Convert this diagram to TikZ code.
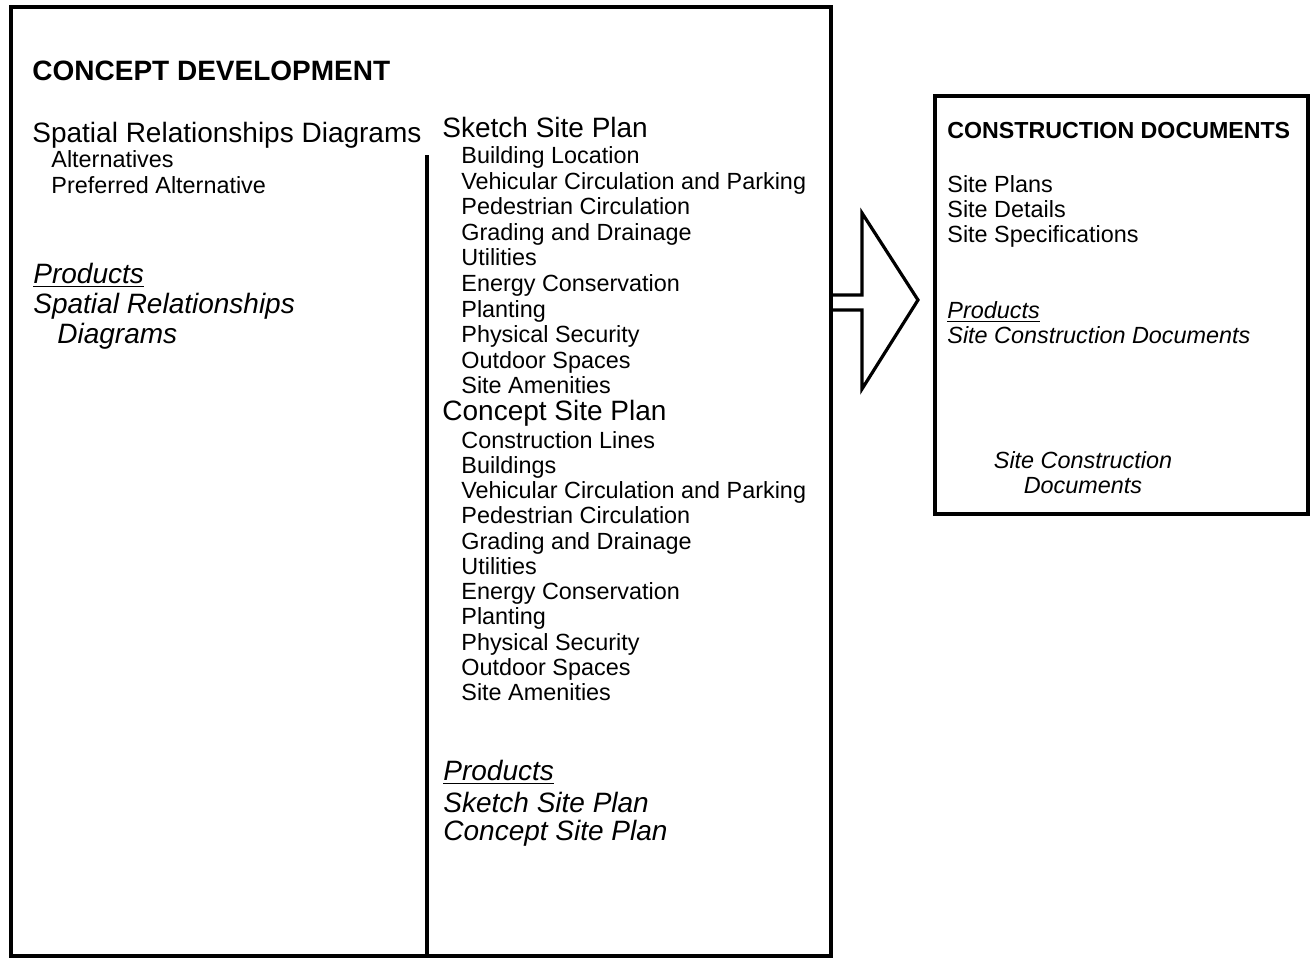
\documentclass[tikz,border=0pt]{standalone}
\usepackage{fontspec}
\setmainfont{Liberation Sans}
\usepackage{tikz}
\usetikzlibrary{calc}

\tikzset{
	frame/.style={line width=1.6pt, line join=miter},
	title/.style={anchor=base west, inner sep=0pt, font=\fontsize{14}{16}\selectfont\bfseries},
	subtitle/.style={anchor=base west, inner sep=0pt, font=\fontsize{11.6}{13}\selectfont\bfseries},
	heading/.style={anchor=base west, inner sep=0pt, font=\fontsize{14}{16}\selectfont},
	item/.style={anchor=base west, inner sep=0pt, font=\fontsize{11.7}{13}\selectfont},
	product/.style={anchor=base west, inner sep=0pt, font=\fontsize{14}{16}\selectfont\itshape},
	smallproduct/.style={anchor=base west, inner sep=0pt, font=\fontsize{11.7}{13}\selectfont\itshape},
}

\begin{document}
\begin{tikzpicture}[x=0.5pt, y=-0.5pt]
	\useasboundingbox (0,0) rectangle (1311,958);

	\coordinate (cdnw) at (11,7);
	\coordinate (cdse) at (831,956);
	\coordinate (divtop) at (427,155);
	\coordinate (divbot) at (427,956);
	\coordinate (docnw) at (935,96);
	\coordinate (docse) at (1308,514);

	\draw [frame] (cdnw) rectangle (cdse);
	\draw [frame] (divtop) -- (divbot);
	\draw [frame] (docnw) rectangle (docse);
	\draw [frame] (831,295) -- (862,295) -- (862,213) -- (918,300) -- (862,389) -- (862,310) -- (831,310);

	\node [title] (cdtitle) at (32,80) {CONCEPT DEVELOPMENT};
	\node [heading] (srd) at (32,142) {Spatial Relationships Diagrams};
	\node [item] (alt) at (51,167) {Alternatives};
	\node [item] (pref) at (51,193) {Preferred Alternative};
	\node [product] (prodl) at (33,283) {\underline{Products}};
	\node [product] (prodsrd) at (33,313) {Spatial Relationships};
	\node [product] (proddiag) at (57,343) {Diagrams};

	\node [heading] (ssp) at (442,137) {Sketch Site Plan};
	\node [item] (ssp1) at (461,163) {Building Location};
	\node [item] (ssp2) at (461,189) {Vehicular Circulation and Parking};
	\node [item] (ssp3) at (461,214) {Pedestrian Circulation};
	\node [item] (ssp4) at (461,240) {Grading and Drainage};
	\node [item] (ssp5) at (461,265) {Utilities};
	\node [item] (ssp6) at (461,291) {Energy Conservation};
	\node [item] (ssp7) at (461,317) {Planting};
	\node [item] (ssp8) at (461,342) {Physical Security};
	\node [item] (ssp9) at (461,368) {Outdoor Spaces};
	\node [item] (ssp10) at (461,393) {Site Amenities};

	\node [heading] (csp) at (442,420) {Concept Site Plan};
	\node [item] (csp1) at (461,448) {Construction Lines};
	\node [item] (csp2) at (461,473) {Buildings};
	\node [item] (csp3) at (461,498) {Vehicular Circulation and Parking};
	\node [item] (csp4) at (461,523) {Pedestrian Circulation};
	\node [item] (csp5) at (461,549) {Grading and Drainage};
	\node [item] (csp6) at (461,574) {Utilities};
	\node [item] (csp7) at (461,599) {Energy Conservation};
	\node [item] (csp8) at (461,624) {Planting};
	\node [item] (csp9) at (461,650) {Physical Security};
	\node [item] (csp10) at (461,675) {Outdoor Spaces};
	\node [item] (csp11) at (461,700) {Site Amenities};

	\node [product] (prodm) at (443,780) {\underline{Products}};
	\node [product] (prodssp) at (443,812) {Sketch Site Plan};
	\node [product] (prodcsp) at (443,840) {Concept Site Plan};

	\node [subtitle] (doctitle) at (947,138) {CONSTRUCTION DOCUMENTS};
	\node [item] (doc1) at (947,192) {Site Plans};
	\node [item] (doc2) at (947,217) {Site Details};
	\node [item] (doc3) at (947,242) {Site Specifications};
	\node [smallproduct] (prodr) at (947,318) {\underline{Products}};
	\node [smallproduct] (prodscd) at (947,343) {Site Construction Documents};
	\node [smallproduct, anchor=base, align=center] (scd) at (1083,493) {Site Construction\\[-0.8pt]Documents};
\end{tikzpicture}
\end{document}
